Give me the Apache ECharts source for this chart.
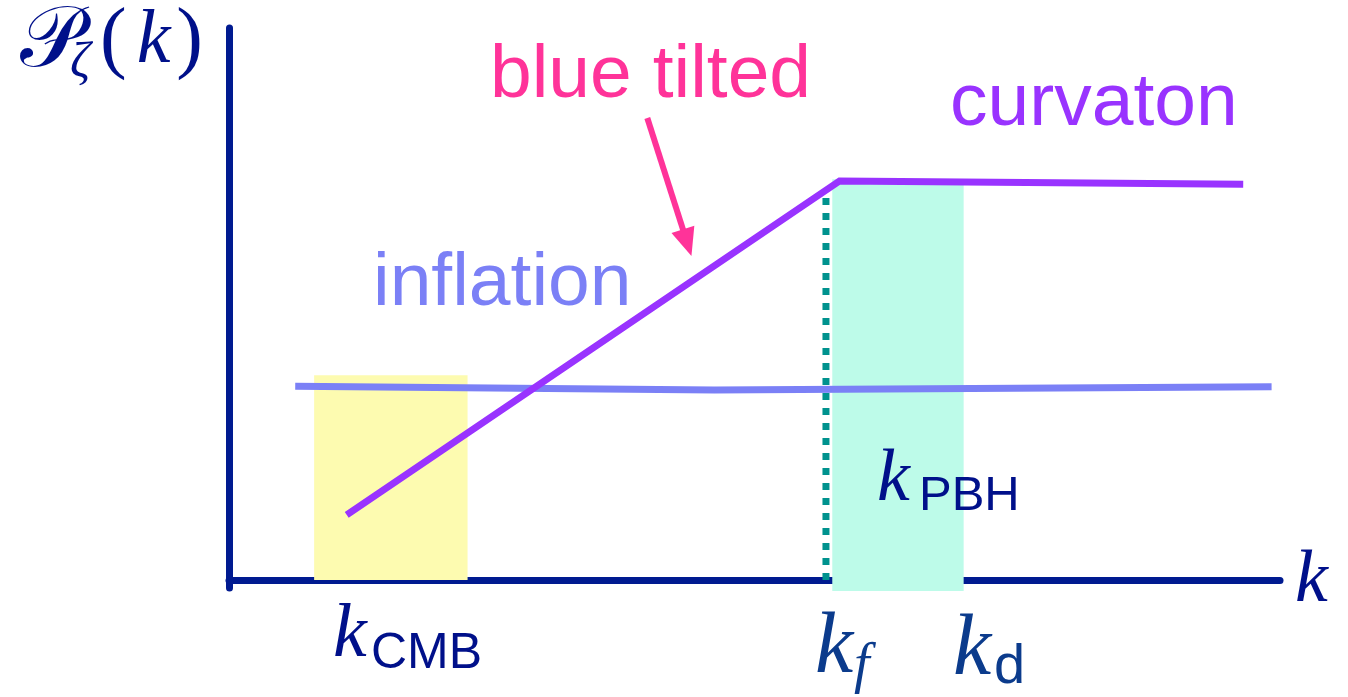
<!DOCTYPE html>
<html>
<head>
<meta charset="utf-8">
<script src="https://cdn.jsdelivr.net/npm/echarts@6/dist/echarts.min.js"></script>
<style>
  html, body { margin: 0; padding: 0; background: #ffffff; }
  #chart { width: 1348px; height: 697px; }
</style>
</head>
<body>
<div id="chart"></div>
<script>
// Schematic power spectrum P_zeta(k): values in arbitrary units (k: 0..100, P: 0..100)
const inflation = [[6.3, 35.1], [46.2, 34.4], [99.2, 35.0]];
const curvaton = [[11.2, 11.8], [58.1, 72.3], [96.5, 71.7]];
// bands: [kFrom, kTo, pBottom, pTop]
const cmbBand = [[8.1, 22.7, 0, 37.1]];
const pbhBand = [[57.4, 69.9, -2.0, 72.6]];
// k_f marker: [k, pBottom, pTop]
const kfMarker = [56.8, 0, 70.7];
// annotation arrow: [kStart, pStart, kEnd, pEnd]
const tiltArrow = [[39.8, 83.7, 44.0, 58.7]];

const NAVY = '#00108a';
const AXIS = '#001a90';
const KBLUE = '#0b3b8c';
const PINK = '#ff3399';
const PURPLE = '#9933ff';
const LILAC = '#7b80f6';
const SANS = '"Liberation Sans", Arial, sans-serif';
const SERIF = '"Liberation Serif", "DejaVu Serif", serif';

function bandRenderer(color) {
  return function (params, api) {
    const a = api.coord([api.value(0), api.value(3)]);
    const b = api.coord([api.value(1), api.value(2)]);
    return {
      type: 'rect',
      shape: { x: a[0], y: a[1], width: b[0] - a[0], height: b[1] - a[1] },
      style: { fill: color }
    };
  };
}

function arrowRenderer(params, api) {
  const s = api.coord([api.value(0), api.value(1)]);
  const e = api.coord([api.value(2), api.value(3)]);
  const dx = e[0] - s[0], dy = e[1] - s[1];
  const len = Math.sqrt(dx * dx + dy * dy);
  const ux = dx / len, uy = dy / len;
  const headLen = 28, headHalf = 12;
  const bx = e[0] - ux * headLen, by = e[1] - uy * headLen;
  return {
    type: 'group',
    children: [
      { type: 'line', shape: { x1: s[0], y1: s[1], x2: bx + ux * 2, y2: by + uy * 2 },
        style: { stroke: PINK, lineWidth: 6 } },
      { type: 'polygon',
        shape: { points: [[e[0], e[1]], [bx - uy * headHalf, by + ux * headHalf], [bx + uy * headHalf, by - ux * headHalf]] },
        style: { fill: PINK } }
    ]
  };
}

function txt(text, x, y, size, color, family, italic) {
  return {
    type: 'text', x: x, y: y, z: 100,
    style: {
      text: text, fill: color,
      font: (italic ? 'italic ' : '') + size + 'px ' + family,
      textAlign: 'left', textVerticalAlign: 'middle'
    }
  };
}

const chart = echarts.init(document.getElementById('chart'), null, { renderer: 'canvas' });
chart.setOption({
  animation: false,
  backgroundColor: '#ffffff',
  grid: { left: 229, right: 68, top: 28, bottom: 109 },
  xAxis: {
    type: 'value', min: 0, max: 100,
    axisLine: { show: true, onZero: true, lineStyle: { color: AXIS, width: 7 } },
    axisTick: { show: false }, axisLabel: { show: false }, splitLine: { show: false }
  },
  yAxis: {
    type: 'value', min: -1.45, max: 100,
    axisLine: { show: true, onZero: false, lineStyle: { color: AXIS, width: 7 } },
    axisTick: { show: false }, axisLabel: { show: false }, splitLine: { show: false }
  },
  series: [
    { type: 'custom', name: 'CMB scales', z: 1, clip: false, renderItem: bandRenderer('#fdfbb0'), data: cmbBand },
    { type: 'custom', name: 'PBH scales', z: 1, clip: false, renderItem: bandRenderer('#bdfbe9'), data: pbhBand },
    {
      type: 'line', name: 'k_f', z: 2, symbol: 'none', silent: true,
      lineStyle: { color: '#00928e', width: 7, type: [7, 8], cap: 'butt' },
      data: [[kfMarker[0], kfMarker[1]], [kfMarker[0], kfMarker[2]]]
    },
    {
      type: 'line', name: 'inflation', z: 3, symbol: 'none', silent: true,
      lineStyle: { color: LILAC, width: 7 }, data: inflation
    },
    {
      type: 'line', name: 'curvaton', z: 4, symbol: 'none', silent: true,
      lineStyle: { color: PURPLE, width: 7, join: 'miter' }, data: curvaton
    },
    { type: 'custom', name: 'arrow', z: 5, clip: false, renderItem: arrowRenderer, data: tiltArrow }
  ],
  graphic: [
    txt('blue tilted', 490, 76, 75, PINK, SANS, false),
    txt('curvaton', 950, 104, 75, PURPLE, SANS, false),
    txt('inflation', 373, 284, 75, LILAC, SANS, false),
    // axis labels
    txt('\u{1D4AB}', 20, 44, 86, NAVY, '"DejaVu Serif", serif', false),
    txt('\u03B6', 70, 64, 50, NAVY, SERIF, true),
    {
      type: 'text', x: 100, y: 42, z: 100,
      style: {
        text: '{p|(}{k|k}{p|)}', fill: NAVY, textVerticalAlign: 'middle',
        rich: {
          p: { fontFamily: SERIF, fontSize: 80, fill: NAVY, padding: [0, 4, 0, 0] },
          k: { fontFamily: SERIF, fontStyle: 'italic', fontSize: 76, fill: NAVY, padding: [0, 6, 0, 6] }
        }
      }
    },
    txt('k', 1295, 582, 74, NAVY, SERIF, true),
    // scale labels
    txt('k', 333, 636, 76, NAVY, SERIF, true),
    txt('CMB', 371, 654, 50, NAVY, SANS, false),
    txt('k', 877, 481, 74, NAVY, SERIF, true),
    txt('PBH', 919, 496, 49, NAVY, SANS, false),
    txt('k', 815, 649, 86, KBLUE, SERIF, true),
    txt('f', 854, 667, 56, KBLUE, SERIF, true),
    txt('k', 953, 651, 86, KBLUE, SERIF, true),
    txt('d', 994, 668, 56, KBLUE, SANS, false)
  ]
});
</script>
</body>
</html>
